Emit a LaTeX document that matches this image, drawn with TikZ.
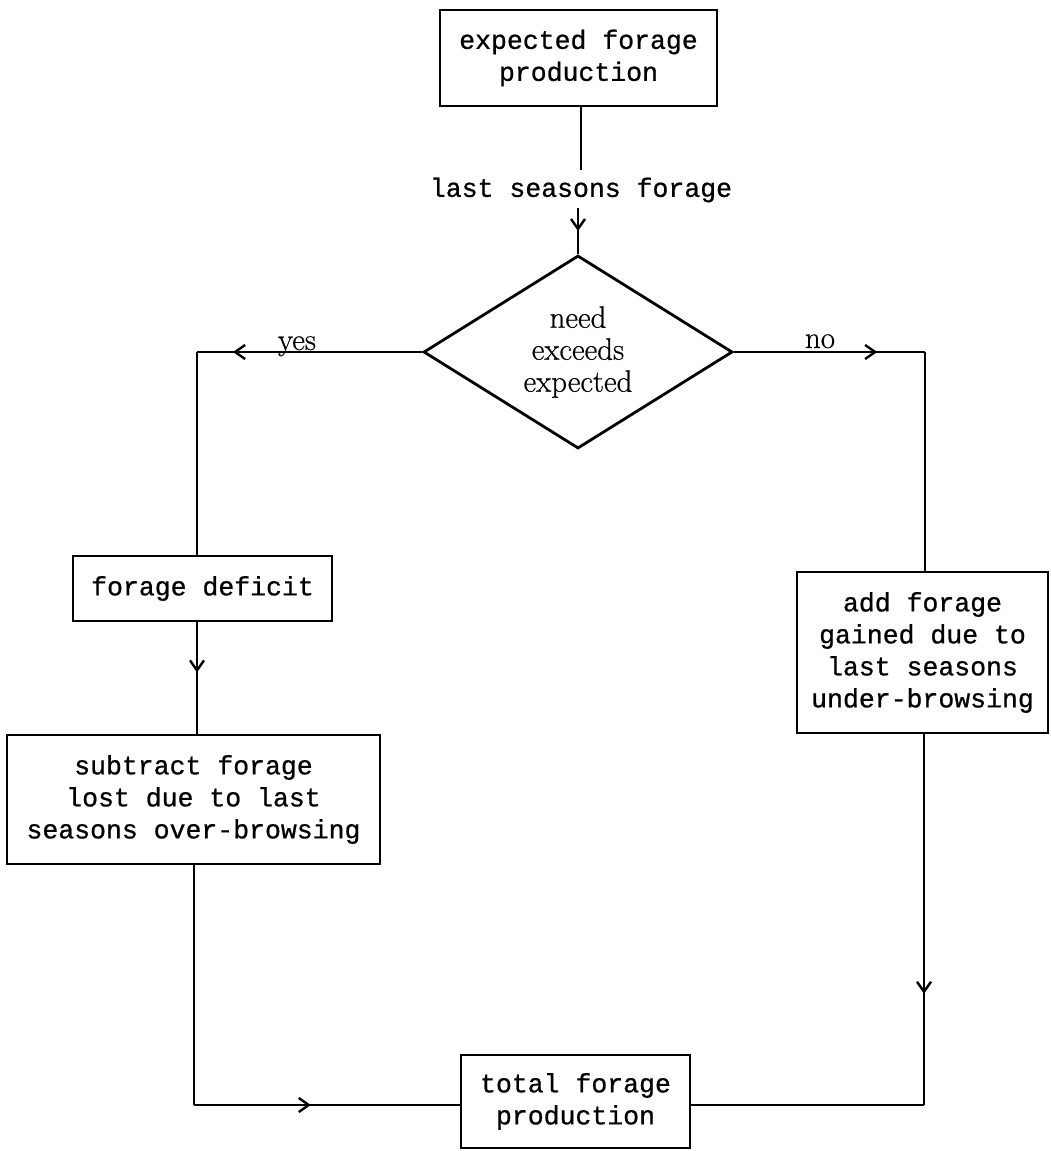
\documentclass[tikz,border=0pt]{standalone}
\usepackage{fontspec}
\newfontfamily\tw[FakeBold=0.8]{Liberation Mono}
\newfontfamily\sr[FakeBold=0.5]{Latin Modern Roman}
\usetikzlibrary{shapes.geometric,arrows.meta,decorations.markings}
\tikzset{
  x=0.5pt,y=-0.5pt,
  every path/.style={line width=1.4pt},
  tbox/.style={draw,line width=1.4pt,inner sep=0pt,align=center,
    font=\tw\fontsize{13.25pt}{16pt}\selectfont},
  ttext/.style={inner sep=0pt,font=\tw\fontsize{13.25pt}{16pt}\selectfont},
  stext/.style={inner sep=0pt,font=\sr\fontsize{15.5pt}{16pt}\selectfont},
  decide/.style={draw,diamond,aspect=1.6,inner sep=0pt,align=center,
    minimum width=154.5pt,minimum height=96.5pt,line width=1.4pt,
    font=\sr\fontsize{15.5pt}{16pt}\selectfont},
  midarrow/.style={postaction={decorate},decoration={markings,
    mark=at position #1 with {\arrow{Straight Barb[length=5pt,width=7pt,line width=1.2pt]}}}}
}
\begin{document}
\begin{tikzpicture}
\useasboundingbox (0,0) rectangle (1050,1151);
\node[tbox,minimum width=138.5pt,minimum height=48pt] (top) at (578.5,58)
  {expected forage\\production};
\node[ttext] (lsf) at (581,190) {last seasons forage};
\node[decide] (dec) at (578,352) {need\\exceeds\\expected};
\node[tbox,minimum width=129.5pt,minimum height=32.5pt] (fd) at (202.5,588.5) {forage deficit};
\node[tbox,minimum width=186.5pt,minimum height=64.5pt] (sub) at (193.5,799.5)
  {subtract forage\\lost due to last\\seasons over-browsing};
\node[tbox,minimum width=125.5pt,minimum height=80.5pt] (add) at (922.5,652.5)
  {add forage\\gained due to\\last seasons\\under-browsing};
\node[tbox,minimum width=114.5pt,minimum height=46.5pt] (tot) at (575.5,1101.5)
  {total forage\\production};
\coordinate (la) at (581,170);
\coordinate (lc) at (578,208);
\coordinate (yl) at (197,352);
\coordinate (nr) at (925,352);
\coordinate (lb) at (194,1105);
\coordinate (rb) at (924,1105);
\node[stext,anchor=base] (yes) at (297,350) {yes};
\node[stext,anchor=base] (no) at (820,348) {no};
% connectors
\draw (top.south -| la) -- (la);
\draw[midarrow=0.5] (lc) -- (dec.north);
\draw[midarrow=0.84] (dec.west) -- (yl);
\draw (yl) -- (yl |- fd.north);
\draw[midarrow=0.75] (dec.east) -- (nr);
\draw (nr) -- (nr |- add.north);
\draw[midarrow=0.45] (fd.south -| yl) -- (sub.north -| yl);
\draw (sub.south -| lb) -- (lb);
\draw[midarrow=0.44] (lb) -- (tot.west |- lb);
\draw[midarrow=0.70] (add.south -| rb) -- (rb);
\draw (rb) -- (tot.east |- rb);
\end{tikzpicture}
\end{document}
